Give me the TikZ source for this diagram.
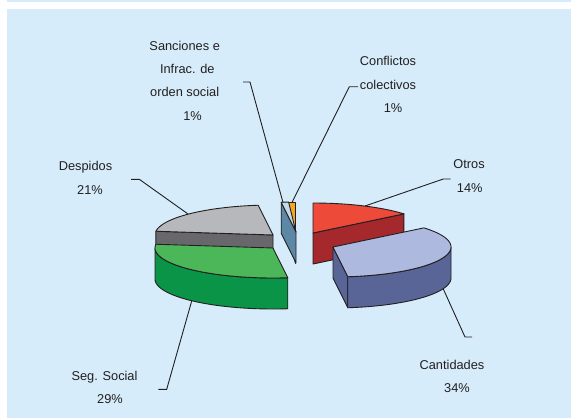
\documentclass[tikz,border=0pt]{standalone}
\usepackage{fontspec}
\setmainfont{Liberation Sans}
\definecolor{bg}{RGB}{214,236,250}
\definecolor{ink}{RGB}{35,31,32}
\definecolor{redtop}{RGB}{238,74,58}
\definecolor{redside}{RGB}{164,40,44}
\definecolor{lavtop}{RGB}{173,185,223}
\definecolor{lavside}{RGB}{90,101,151}
\definecolor{grntop}{RGB}{76,183,88}
\definecolor{grnside}{RGB}{10,148,71}
\definecolor{gratop}{RGB}{183,184,188}
\definecolor{graside}{RGB}{104,104,108}
\definecolor{blutop}{RGB}{196,218,232}
\definecolor{bluside}{RGB}{92,136,166}
\definecolor{orgtop}{RGB}{247,166,35}
\definecolor{orgside}{RGB}{225,135,30}
\def\rx{118}
\def\ry{30}
\def\hh{31}
% top face: apex x, apex y, angle from, angle to, colour
\newcommand\topface[5]{\filldraw[pie,fill=#5] (#1,#2) -- plot[domain=#3:#4,samples=60] ({#1+\rx*sin(\x)},{#2-\ry*cos(\x)}) -- cycle;}
% outer wall
\newcommand\wallface[5]{\filldraw[pie,fill=#5] plot[domain=#3:#4,samples=60] ({#1+\rx*sin(\x)},{#2-\ry*cos(\x)}) -- plot[domain=#4:#3,samples=60] ({#1+\rx*sin(\x)},{#2+\hh-\ry*cos(\x)}) -- cycle;}
% radial face
\newcommand\radface[4]{\filldraw[pie,fill=#4] (#1,#2) -- ({#1+\rx*sin(#3)},{#2-\ry*cos(#3)}) -- ++(0,\hh) -- (#1,{#2+\hh}) -- cycle;}
\begin{document}
\begin{tikzpicture}[x=1pt,y=-1pt,
  pie/.style={draw=ink,line width=0.9pt,line join=round},
  lead/.style={draw=ink,line width=0.9pt},
  lbl/.style={font=\fontsize{12.8}{15}\selectfont,text=ink,inner sep=0pt,anchor=base}]
\useasboundingbox (0,0) rectangle (571,418);
\fill[bg] (7,9) rectangle (571,418);
\fill[bg] (7,0) rectangle (571,2);

% Despidos
\radface{273}{235}{277.2}{graside}
\topface{273}{235}{277.2}{352.8}{gratop}
% Seg. Social
\wallface{273}{248}{172.8}{270}{grnside}
\topface{273}{248}{172.8}{277.2}{grntop}
% Conflictos
\radface{295.5}{232.5}{356.4}{orgside}
\topface{295.5}{232.5}{356.4}{360}{orgtop}
% Sanciones
\radface{296}{232}{352.8}{bluside}
\topface{296}{232}{352.8}{356.4}{blutop}
% Otros
\radface{313}{233}{50.4}{redside}
\topface{313}{233}{0}{50.4}{redtop}
% Cantidades
\radface{333}{247}{172.8}{lavside}
\wallface{333}{247}{90}{172.8}{lavside}
\topface{333}{247}{50.4}{172.8}{lavtop}

% labels
\node[lbl] (sanA) at (184.7,50) {Sanciones e};
\node[lbl] (sanB) at (187.3,73.4) {Infrac. de};
\node[lbl] (sanC) at (184.7,96.8) {orden social};
\node[lbl] (sanD) at (192.5,120) {1\%};
\node[lbl] (conA) at (388,65) {Conflictos};
\node[lbl] (conB) at (388,89) {colectivos};
\node[lbl] (conC) at (393,112.7) {1\%};
\node[lbl] (desA) at (85.5,170.5) {Despidos};
\node[lbl] (desB) at (90,194) {21\%};
\node[lbl] (otrA) at (469,168) {Otros};
\node[lbl] (otrB) at (469.7,192) {14\%};
\node[lbl] (segA) at (104.5,380) {Seg. Social};
\node[lbl] (segB) at (110,403) {29\%};
\node[lbl] (canA) at (452,369) {Cantidades};
\node[lbl] (canB) at (457,392.6) {34\%};

% leader lines
\coordinate (pSan) at (283,202.5);
\coordinate (cSan) at (250,82);
\coordinate (tSan) at (243,82);
\coordinate (pCon) at (292,202.5);
\coordinate (cCon) at (349.3,86.7);
\coordinate (tCon) at (358,86.7);
\coordinate (pDes) at (188,214);
\coordinate (cDes) at (139.3,179.3);
\coordinate (tDes) at (131,179.3);
\coordinate (pOtr) at (365,206);
\coordinate (cOtr) at (443.3,179);
\coordinate (tOtr) at (450.7,179);
\coordinate (pSeg) at (191.7,301);
\coordinate (cSeg) at (166.7,389.3);
\coordinate (tSeg) at (158.3,389.3);
\coordinate (pCan) at (443.3,289);
\coordinate (cCan) at (465,337);
\coordinate (tCan) at (472,337);
\draw[lead] (pSan) -- (cSan) -- (tSan);
\draw[lead] (pCon) -- (cCon) -- (tCon);
\draw[lead] (pDes) -- (cDes) -- (tDes);
\draw[lead] (pOtr) -- (cOtr) -- (tOtr);
\draw[lead] (pSeg) -- (cSeg) -- (tSeg);
\draw[lead] (pCan) -- (cCan) -- (tCan);
\end{tikzpicture}
\end{document}
